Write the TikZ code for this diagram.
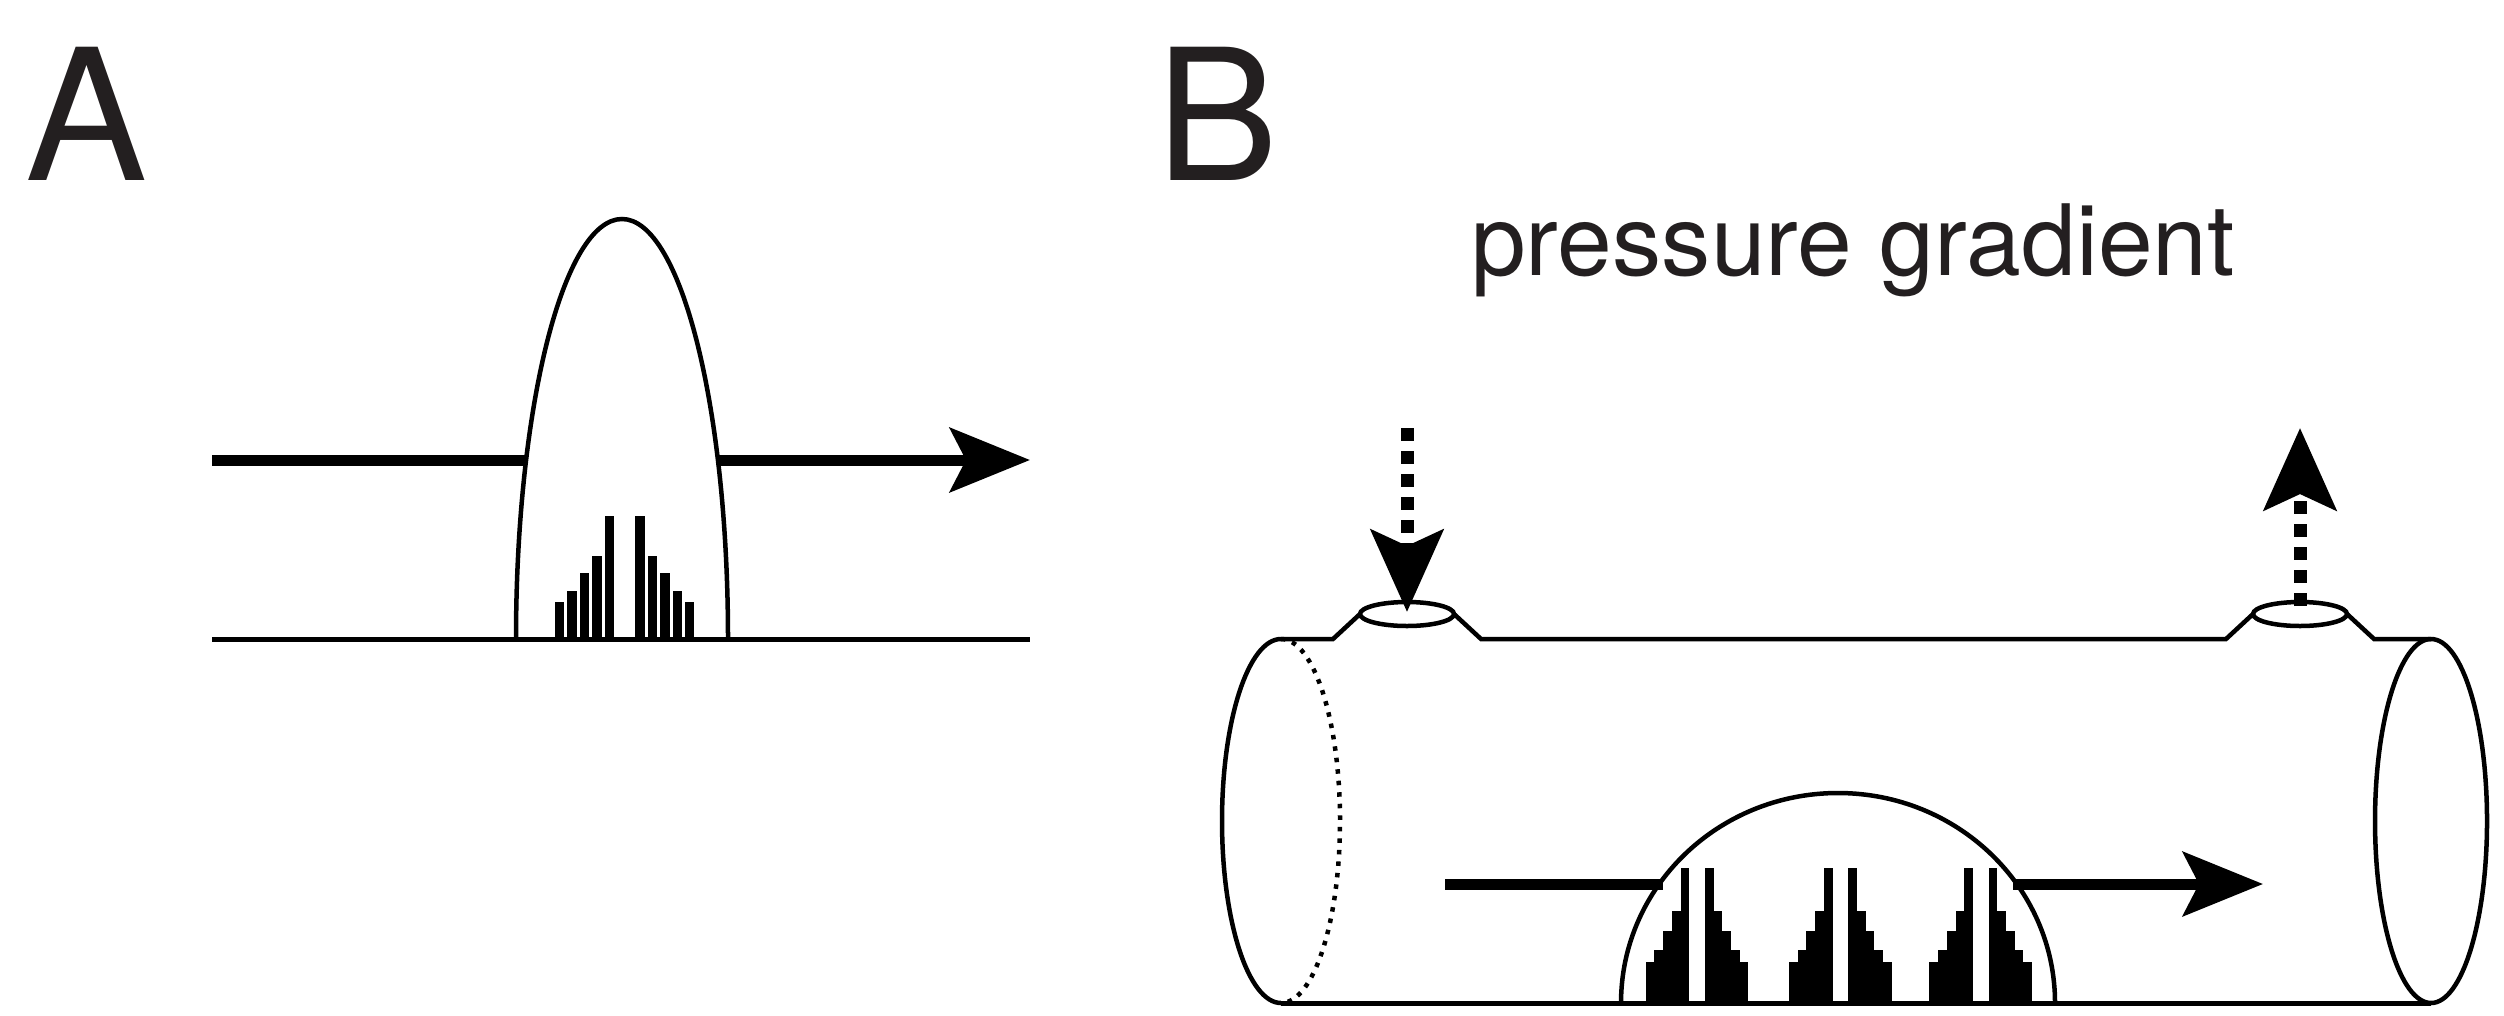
\documentclass[tikz,border=0pt]{standalone}
\usepackage{fontspec}
\setmainfont{TeX Gyre Heros}
\usetikzlibrary{arrows.meta}
\definecolor{ink}{HTML}{231F20}

\begin{document}
\begin{tikzpicture}[x=0.01cm,y=-0.01cm,
		outline/.style={line width=0.45mm},
		stem/.style={line width=1.1mm},
		flow/.style={stem,-{Stealth[length=8mm,width=6.4mm,inset=1.6mm]}},
		leak/.style={line width=1.3mm,dash pattern=on 1.3mm off 1mm,-{Stealth[length=8.2mm,width=7.2mm,inset=1.6mm]}},
		panel/.style={text=ink,font=\fontsize{52}{52}\selectfont,inner sep=0pt},
		bar/.style={fill=black}]
			\useasboundingbox (0,0) rectangle (2504,1015);
			% panel A
			\node[panel] (labA) at (86,114) {A};
			\draw[outline] (516,639) arc[start angle=180,end angle=360,x radius=106,y radius=420];
			\coordinate (inA) at (212,460);
			\coordinate (domeAl) at (526,460);
			\coordinate (domeAr) at (718,460);
			\coordinate (outA) at (1030,460);
			\draw[stem] (inA) -- (domeAl);
			\draw[flow] (domeAr) -- (outA);
			\coordinate (baseAl) at (212,639);
			\coordinate (baseAr) at (1030,639);
			\draw[line width=0.5mm] (baseAl) -- (baseAr);
			\foreach \i/\h in {0/602,1/591,2/573,3/556,4/516} {
				\fill[bar] (555+12.4*\i,639) rectangle +(9.3,\h-639);
				\fill[bar] (685-12.4*\i,639) rectangle +(9.3,\h-639);
			}
			% panel B
			\node[panel] (labB) at (1217,114) {B};
			\node[text=ink,font=\fontsize{28}{28}\selectfont,anchor=base] (grad) at (1853,275) {pressure gradient};
			\draw[outline] (1281,1003) arc[start angle=90,end angle=270,x radius=59,y radius=182];
			\draw[outline,dotted] (1281,639) arc[start angle=270,end angle=450,x radius=59,y radius=182];
			\draw[outline] (2431,821) ellipse[x radius=56,y radius=182];
			\draw[outline] (1281,639) -- (1333,639) -- (1360,614)
				(1454,614) -- (1481,639) -- (2226,639) -- (2253,614)
				(2347,614) -- (2374,639) -- (2431,639);
			\draw[outline] (1407,614) ellipse[x radius=47,y radius=12];
			\draw[outline] (2300,614) ellipse[x radius=47,y radius=12];
			\draw[line width=0.5mm] (1281,1003) -- (2431,1003);
			\draw[outline] (1621,1003) arc[start angle=180,end angle=360,x radius=217,y radius=210];
			\coordinate (portIn) at (1407,428);
			\coordinate (portInEnd) at (1407,612);
			\coordinate (portOut) at (2300,606);
			\coordinate (portOutEnd) at (2300,428);
			\draw[leak] (portIn) -- (portInEnd);
			\draw[leak] (portOut) -- (portOutEnd);
			\coordinate (inB) at (1445,884);
			\coordinate (domeBl) at (1663,884);
			\coordinate (domeBr) at (2013,884);
			\coordinate (outB) at (2263,884);
			\draw[stem] (inB) -- (domeBl);
			\draw[flow] (domeBr) -- (outB);
			\foreach \g in {0,143.3,283.7} {
				\foreach \i/\h in {0/962,1/950,2/931,3/911,4/868} {
					\fill[bar] (1645.7+\g+8.7*\i,1003) rectangle +(8.7,\h-1003);
					\fill[bar] (1739.6+\g-8.7*\i,1003) rectangle +(8.7,\h-1003);
				}
			}
		\end{tikzpicture}
\end{document}
